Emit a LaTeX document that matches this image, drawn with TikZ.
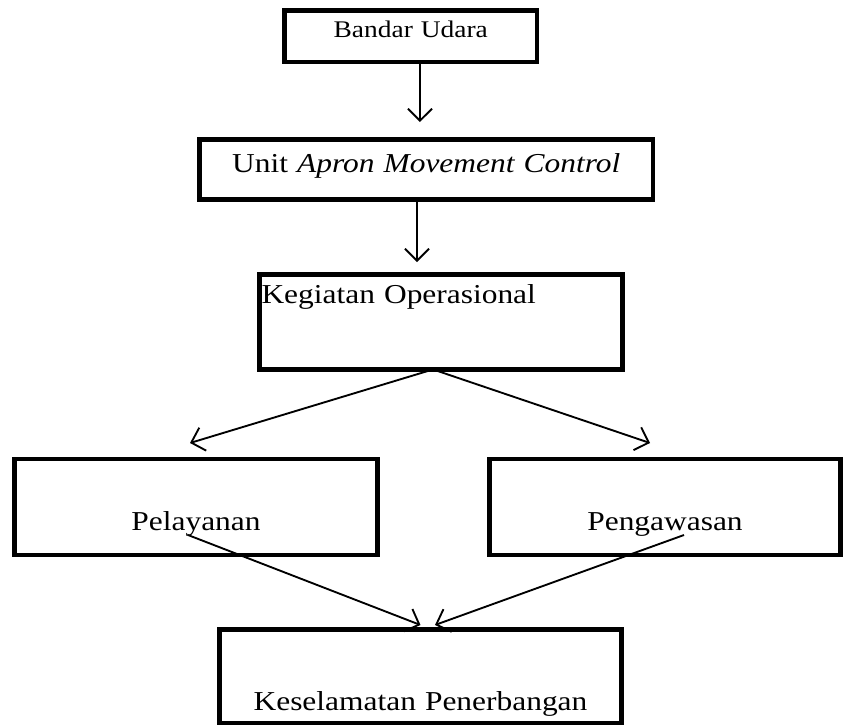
\documentclass[tikz,border=0pt]{standalone}
\usepackage{fontspec}
\setmainfont{Liberation Serif}[FakeStretch=1.15]
\usetikzlibrary{arrows.meta}

\begin{document}
\begin{tikzpicture}[x=0.75pt, y=-0.75pt,
    box/.style={draw, rectangle, line width=3.5pt, inner sep=0pt, outer sep=0pt,
      anchor=north west, align=center, font=\fontsize{20.5pt}{24pt}\selectfont},
    link/.style={line width=1.4pt, -{Straight Barb[length=9pt, width=18pt]}}]
    \useasboundingbox (0,0) rectangle (843,726);
    \node[box, text width=189.4pt, text height=20.6pt, text depth=18pt,
      font=\fontsize{17.9pt}{21pt}\selectfont] (bandar) at (284.5,10.5) {Bandar Udara};
    \node[box, text width=340.1pt, text height=25.1pt, text depth=19.9pt]
      (amc) at (199.5,139.5) {Unit \textit{Apron Movement Control}};
    \node[box, align=left, inner xsep=1.5pt, text width=269.25pt, text height=22.1pt, text depth=49.1pt]
      (kegiatan) at (259.5,274.5) {Kegiatan Operasional};
    \node[box, text width=272.25pt, text height=53.25pt, text depth=18.75pt]
      (pelayanan) at (14.5,459) {Pelayanan};
    \node[box, text width=263.25pt, text height=53.25pt, text depth=18.75pt]
      (pengawasan) at (489.5,459) {Pengawasan};
    \node[box, text width=301.5pt, text height=60.4pt, text depth=9.75pt]
      (keselamatan) at (219.5,629.5) {Keselamatan Penerbangan};
    \draw[link] ([shift={(9.25,0)}]bandar.south) -- ([shift={(-6.25,-17.5)}]amc.north);
    \draw[link] ([shift={(-9.25,1.5)}]amc.south) -- ([shift={(-24,-12.5)}]kegiatan.north);
    \draw[link] ([shift={(-8,0)}]kegiatan.south) -- ([shift={(-6,-16)}]pelayanan.north);
    \draw[link] ([shift={(-8,0)}]kegiatan.south) -- ([shift={(-15,-16)}]pengawasan.north);
    \draw[link] ([shift={(-8,28)}]pelayanan.center) -- ([shift={(0,-4.5)}]keselamatan.north);
    \draw[link] ([shift={(19,28)}]pengawasan.center) -- ([shift={(14.5,-4.5)}]keselamatan.north);
\end{tikzpicture}
\end{document}
